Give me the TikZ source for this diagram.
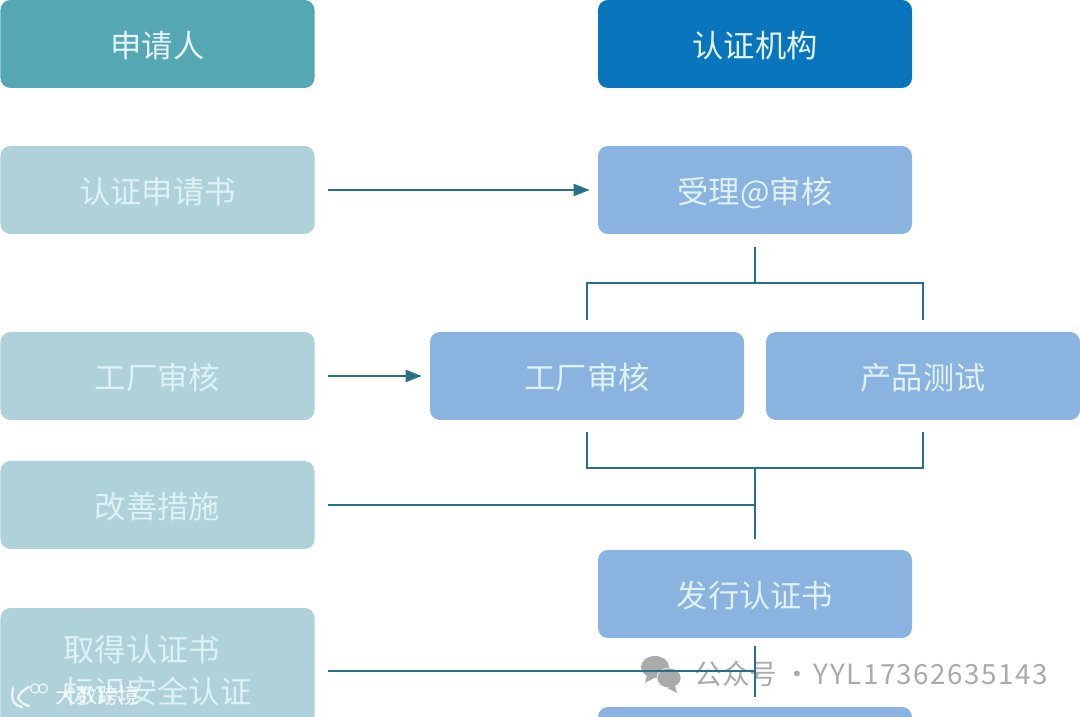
\documentclass[tikz,border=0pt]{standalone}
\usepackage{fontspec}
\setmainfont{Noto Sans CJK SC}
\usepackage{xcolor}
\definecolor{certteal}{RGB}{84,167,179}
\definecolor{certblue}{RGB}{8,117,189}
\definecolor{certpale}{RGB}{175,209,217}
\definecolor{certsky}{RGB}{138,180,223}
\definecolor{certline}{RGB}{38,112,140}
\definecolor{certtext}{RGB}{222,241,244}
\definecolor{certmark}{RGB}{170,170,170}
\usetikzlibrary{arrows.meta,positioning,calc}
\tikzset{
  certbox/.style={rounded corners=0.2cm, minimum width=6.28cm, minimum height=1.76cm, inner sep=0pt, text height=17.4pt, text depth=2pt, font=\fontsize{17.8}{24}\selectfont},
  headbox/.style={certbox, text=white!85!certteal},
  palebox/.style={certbox, fill=certpale, text=certtext},
  skybox/.style={certbox, fill=certsky, text=certtext},
  tallbox/.style={rounded corners=0.2cm, minimum width=6.28cm, minimum height=2.52cm, inner sep=0pt, align=left, fill=certpale, text=certtext, font=\fontsize{17.8}{24}\selectfont},
  flowline/.style={draw=certline, line width=1.1pt},
  flowarrow/.style={flowline, -{Triangle[length=0.32cm,width=0.24cm]}, shorten <=0.26cm, shorten >=0.16cm},
  marktext/.style={inner sep=0pt, text=certmark, font=\fontsize{15.8}{18}\selectfont}
}

\begin{document}
\begin{tikzpicture}
  \clip (0,0) rectangle (21.6,14.32);
  \fill[white] (0,0) rectangle (21.6,14.32);
  \node[headbox, fill=certteal] (applicant) at (3.15,13.44) {申请人};
  \node[headbox, fill=certblue] (agency) at (15.1,13.44) {认证机构};
  \node[palebox] (request) at (3.15,10.52) {认证申请书};
  \node[skybox] (accept) at (15.1,10.52) {受理@审核};
  \node[palebox] (factory) at (3.15,6.8) {工厂审核};
  \node[skybox] (audit) at (11.74,6.8) {工厂审核};
  \node[skybox] (test) at (18.46,6.8) {产品测试};
  \node[palebox] (improve) at (3.15,4.22) {改善措施};
  \node[skybox] (issue) at (15.1,2.44) {发行认证书};
  \node[tallbox] (obtain) at (3.15,0.9) {取得认证书\\标识安全认证};
  \node[skybox] (last) at (15.1,-0.7) {};

  \fill[certmark] (13.1,0.98) ellipse (0.28cm and 0.22cm);
  \fill[certmark] (12.94,0.82) -- (12.9,0.66) -- (13.12,0.78) -- cycle;
  \fill[certmark,draw=white,line width=0.3pt] (13.38,0.76) ellipse (0.24cm and 0.2cm);
  \fill[certmark] (13.5,0.6) -- (13.54,0.46) -- (13.34,0.56) -- cycle;
  \node[marktext, anchor=west] (wechat) at (13.88,0.84) {公众号 ·\kern-0.08cm\ {\addfontfeature{LetterSpace=5.6}YYL17362635143}};

  \coordinate (bustop) at (accept.south |- 0,8.66);
  \coordinate (busmid) at (accept.south |- 0,4.96);
  \draw[flowarrow] (request) -- (accept);
  \draw[flowarrow] (factory) -- (audit);
  \draw[flowline, shorten <=0.26cm] (accept.south) -- (bustop);
  \draw[flowline, shorten <=0.24cm] (audit.north) |- (bustop);
  \draw[flowline, shorten <=0.24cm] (test.north) |- (bustop);
  \draw[flowline, shorten <=0.24cm] (audit.south) |- (busmid);
  \draw[flowline, shorten <=0.24cm] (test.south) |- (busmid);
  \draw[flowline, shorten >=0.22cm] (busmid) -- (issue.north);
  \draw[flowline, shorten <=0.26cm] (improve.east) -- (improve.east -| busmid);
  \draw[flowline, shorten <=0.26cm] (obtain.east) -- (obtain.east -| issue.south);
  \draw[flowline, shorten <=0.16cm, shorten >=0.2cm] (issue.south) -- (last.north);

  \draw[white, opacity=0.8, line width=1.3pt, line cap=round] (0.26,0.56) .. controls (0.2,0.3) and (0.3,0.2) .. (0.44,0.18) (0.58,0.58) .. controls (0.46,0.52) and (0.38,0.44) .. (0.36,0.36) (0.36,0.36) .. controls (0.42,0.26) and (0.5,0.22) .. (0.58,0.2);
  \draw[white, opacity=0.8, line width=0.7pt] (0.7,0.55) circle (0.09cm) (0.86,0.55) circle (0.09cm);
  \node[inner sep=0pt, text=white, opacity=0.85, font=\fontsize{12}{14}\selectfont] (bigdata) at (1.95,0.42) {大数跨境};
\end{tikzpicture}
\end{document}
